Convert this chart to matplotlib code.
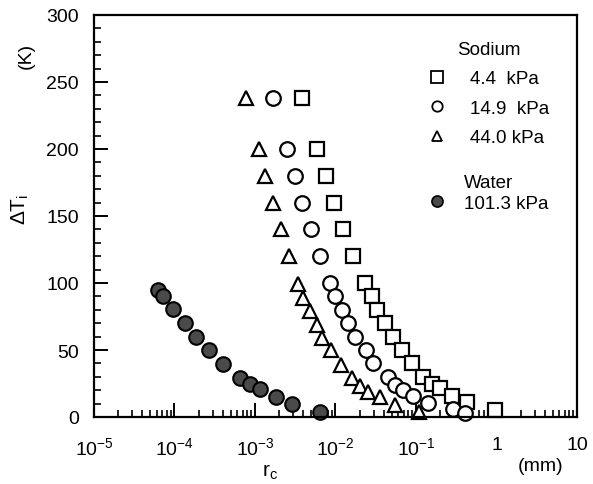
import numpy as np
import matplotlib
matplotlib.use("Agg")
import matplotlib.pyplot as plt
from matplotlib.lines import Line2D
from matplotlib.ticker import FixedLocator, FixedFormatter

plt.rcParams['font.family'] = ['Liberation Sans', 'DejaVu Sans']
plt.rcParams['mathtext.fontset'] = 'custom'
plt.rcParams['mathtext.rm'] = 'Liberation Sans'
plt.rcParams['mathtext.it'] = 'Liberation Sans'

# ---- data (r_c in mm, Delta T_i in K) ----
sq_r = [3.80e-3, 5.94e-3, 7.55e-3, 9.57e-3, 0.0125, 0.0166, 0.0232, 0.0282, 0.0325,
        0.0412, 0.0522, 0.0664, 0.0885, 0.122, 0.157, 0.199, 0.277, 0.427, 0.957]
sq_T = [238, 200, 180, 160, 140, 120, 100, 90, 80, 70, 60, 50, 40, 30, 24.5, 22, 16, 11, 5]

ci_r = [1.66e-3, 2.48e-3, 3.14e-3, 3.80e-3, 4.97e-3, 6.41e-3, 8.55e-3, 9.86e-3, 0.0119,
        0.0144, 0.0175, 0.0237, 0.0295, 0.0443, 0.0548, 0.0684, 0.0925, 0.139, 0.290, 0.406]
ci_T = [238, 200, 180, 160, 140, 120, 100, 90, 80, 70, 60, 50, 40, 30, 24, 20, 15.5, 10.5, 6, 3]

tr_r = [7.73e-4, 1.12e-3, 1.33e-3, 1.69e-3, 2.08e-3, 2.64e-3, 3.45e-3, 3.92e-3, 4.82e-3,
        5.85e-3, 6.86e-3, 8.79e-3, 0.0116, 0.0159, 0.0201, 0.0255, 0.0357, 0.0548, 0.110]
tr_T = [238, 200, 180, 160, 140, 120, 99, 89, 79, 69, 59, 50, 39, 29, 23.5, 19, 15, 9, 4]

wa_r = [6.21e-5, 7.20e-5, 9.66e-5, 1.36e-4, 1.87e-4, 2.70e-4, 4.06e-4, 6.46e-4, 8.59e-4,
        1.15e-3, 1.81e-3, 2.90e-3, 6.41e-3]
wa_T = [95, 90.5, 80.6, 70.1, 59.5, 50.2, 39.6, 29.2, 24.4, 20.6, 15.1, 9.7, 4]

labels_sodium = ["4.4  kPa", "14.9  kPa", "44.0 kPa"]
label_water = "101.3 kPa"

x_ticks = [1e-5, 1e-4, 1e-3, 1e-2, 1e-1, 1, 10]
x_ticklabels = [r"$10^{-5}$", r"$10^{-4}$", r"$10^{-3}$", r"$10^{-2}$", r"$10^{-1}$", "1", "10"]
y_ticks = [0, 50, 100, 150, 200, 250, 300]

# ---- figure ----
fig = plt.figure(figsize=(5.93, 4.85), dpi=100)
ax = fig.add_axes([94/593, 1-418/485, 483/593, 402/485])

lw = 1.6
ax.plot(sq_r, sq_T, ls='none', marker='s', ms=10, mfc='white', mec='black', mew=lw, clip_on=False)
ax.plot(ci_r, ci_T, ls='none', marker='o', ms=10.5, mfc='white', mec='black', mew=lw, clip_on=False)
ax.plot(tr_r, tr_T, ls='none', marker='^', ms=10, mfc='white', mec='black', mew=lw, clip_on=False)
ax.plot(wa_r, wa_T, ls='none', marker='o', ms=10.5, mfc='#4a4a4a', mec='black', mew=1.5, clip_on=False)

ax.set_xscale('log')
ax.set_xlim(1e-5, 10)
ax.set_ylim(0, 300)

ax.xaxis.set_major_locator(FixedLocator(x_ticks))
ax.xaxis.set_major_formatter(FixedFormatter(x_ticklabels))
ax.xaxis.set_minor_locator(matplotlib.ticker.LogLocator(base=10, subs=np.arange(2, 10)))
ax.xaxis.set_minor_formatter(matplotlib.ticker.NullFormatter())
ax.set_yticks(y_ticks)
ax.set_yticks(np.arange(0, 301, 10), minor=True)

ax.tick_params(axis='both', which='major', direction='in', length=10, width=1.4,
               labelsize=14, top=False, right=False)
ax.tick_params(axis='both', which='minor', direction='in', length=5, width=1.2,
               top=False, right=False)
ax.tick_params(axis='x', which='major', pad=14)
ax.tick_params(axis='y', which='major', pad=11)

for s in ax.spines.values():
    s.set_linewidth(1.6)

ax.set_ylabel(r"$\Delta$T$_{\rm i}$", fontsize=15)
ax.yaxis.set_label_coords(-0.13, 0.52)
ax.text(-0.14, 0.90, "(K)", transform=ax.transAxes, rotation=90, fontsize=14,
        ha='center', va='center')
ax.set_xlabel(r"r$_{\rm c}$", fontsize=15)
ax.xaxis.set_label_coords(0.365, -0.11)
ax.text(0.925, -0.12, "(mm)", transform=ax.transAxes, fontsize=14, ha='center', va='center')

# ---- legends ----
h_sq = Line2D([], [], ls='none', marker='s', ms=8, mfc='white', mec='black', mew=1.3)
h_ci = Line2D([], [], ls='none', marker='o', ms=7.5, mfc='white', mec='black', mew=1.3)
h_tr = Line2D([], [], ls='none', marker='^', ms=7.5, mfc='white', mec='black', mew=1.3)
h_wa = Line2D([], [], ls='none', marker='o', ms=8, mfc='#4a4a4a', mec='black', mew=1.2)

leg1 = ax.legend([h_sq, h_ci, h_tr], labels_sodium, title="Sodium", loc='upper left',
                 bbox_to_anchor=(0.664, 0.968), frameon=False, fontsize=13.5,
                 title_fontsize=13.5, handletextpad=1.25, labelspacing=0.66,
                 handlelength=1.0, borderpad=0.2)
ax.add_artist(leg1)
leg2 = ax.legend([h_wa], [label_water], title="Water", loc='upper left',
                 bbox_to_anchor=(0.664, 0.637), frameon=False, fontsize=13.5,
                 title_fontsize=13.5, handletextpad=0.95, labelspacing=0.2,
                 handlelength=1.0, borderpad=0.2)

fig.savefig("out.png", dpi=100)
